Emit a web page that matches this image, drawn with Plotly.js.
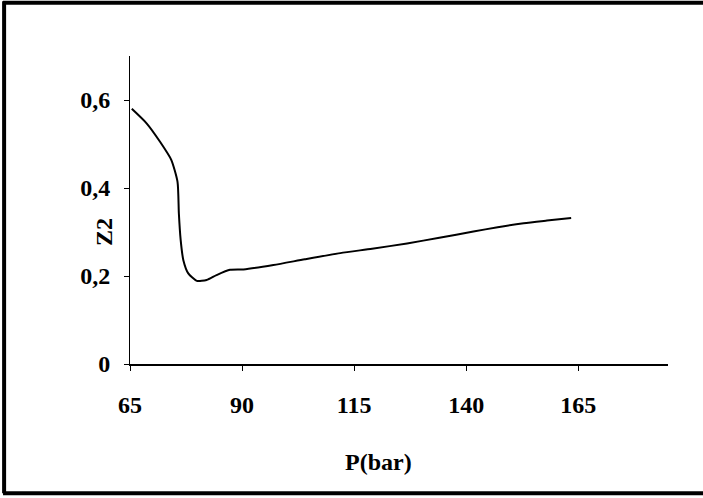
<!DOCTYPE html>
<html>
<head>
<meta charset="utf-8">
<script src="https://cdn.plot.ly/plotly-3.0.1.min.js"></script>
<style>
  html, body { margin: 0; padding: 0; background: #fff; }
  #chart { width: 703px; height: 498px; }
</style>
</head>
<body>
<div id="chart"></div>
<script>
// Compressibility factor Z2 against pressure
const pressure = [65.4, 68.7, 71.7, 74.2, 75.6, 75.9, 76.3, 76.9, 78.0, 79.9, 82.1, 84.3, 87.3, 90.3, 97.0, 104.0, 111.9, 119.0, 126.8, 134.0, 141.6, 147.0, 152.8, 158.0, 163.4];
const z2 = [0.580, 0.547, 0.505, 0.464, 0.414, 0.342, 0.282, 0.236, 0.206, 0.189, 0.191, 0.202, 0.214, 0.215, 0.225, 0.238, 0.252, 0.262, 0.274, 0.287, 0.301, 0.311, 0.320, 0.326, 0.332];

const xTicks = [65, 90, 115, 140, 165];
const yTicks = [0, 0.2, 0.4, 0.6];
const yTickText = ["0", "0,2", "0,4", "0,6"];

const serif = "'Liberation Serif', 'Times New Roman', serif";
const fontSize = 24;

const trace = {
  x: pressure,
  y: z2,
  type: "scatter",
  mode: "lines",
  line: { color: "#000", width: 2, shape: "spline", smoothing: 0.6 },
  hoverinfo: "skip"
};

const layout = {
  width: 703,
  height: 498,
  margin: { l: 130, r: 35, t: 56, b: 134 },
  paper_bgcolor: "#fff",
  plot_bgcolor: "#fff",
  showlegend: false,
  separators: ", ",
  font: { family: serif, color: "#000", size: fontSize, weight: "bold" },
  xaxis: {
    range: [65, 185],
    tickvals: xTicks,
    ticktext: xTicks.map(String),
    ticks: "outside",
    ticklen: 5,
    tickwidth: 1,
    tickcolor: "#000",
    ticklabelstandoff: 13,
    showgrid: false,
    zeroline: false,
    showline: true,
    linecolor: "#000",
    linewidth: 2,
    tickfont: { family: serif, size: fontSize, color: "#000", weight: "bold" }
  },
  yaxis: {
    range: [0, 0.7],
    tickvals: yTicks,
    ticktext: yTickText,
    ticks: "outside",
    ticklen: 5,
    tickwidth: 1,
    tickcolor: "#000",
    ticklabelstandoff: 9,
    showgrid: false,
    zeroline: false,
    showline: true,
    linecolor: "#000",
    linewidth: 1,
    tickfont: { family: serif, size: fontSize, color: "#000", weight: "bold" }
  },
  annotations: [
    {
      text: "P(bar)", xref: "paper", yref: "paper",
      x: (378 - 130) / 538, y: (364 - 462) / 308,
      xanchor: "center", yanchor: "middle", showarrow: false,
      font: { family: serif, size: fontSize, color: "#000", weight: "bold" }
    },
    {
      text: "Z2", xref: "paper", yref: "paper",
      x: (104 - 130) / 538, y: (364 - 232) / 308,
      xanchor: "center", yanchor: "middle", showarrow: false, textangle: -90,
      font: { family: serif, size: fontSize, color: "#000", weight: "bold" }
    }
  ],
  shapes: [
    // outer frame: top, left and bottom edges
    { type: "line", xref: "paper", yref: "paper", x0: -0.236, x1: 1.07, y0: 1.173, y1: 1.173, line: { color: "#000", width: 4 } },
    { type: "line", xref: "paper", yref: "paper", x0: -0.234, x1: -0.234, y0: 1.178, y1: -0.42, line: { color: "#000", width: 4 } },
    { type: "line", xref: "paper", yref: "paper", x0: -0.236, x1: 1.07, y0: -0.42, y1: -0.42, line: { color: "#000", width: 4 } }
  ]
};

Plotly.newPlot("chart", [trace], layout, { staticPlot: true, displayModeBar: false });
</script>
</body>
</html>
